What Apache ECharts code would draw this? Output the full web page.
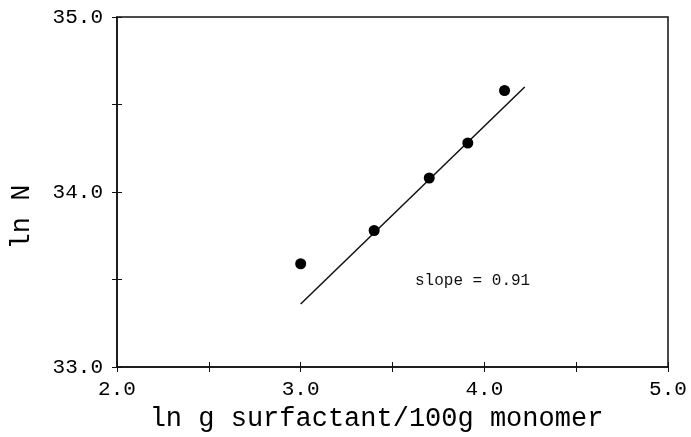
<!DOCTYPE html>
<html>
<head>
<meta charset="utf-8">
<script src="https://cdn.jsdelivr.net/npm/echarts@6/dist/echarts.min.js"></script>
<style>
  html, body { margin: 0; padding: 0; background: #fff; }
  #chart { width: 691px; height: 437px; }
</style>
</head>
<body>
<div id="chart"></div>
<script>
// measured points (ln g surfactant/100g monomer, ln N)
const lnSurf = [3.0, 3.4, 3.7, 3.91, 4.11];
const lnN = [33.59, 33.78, 34.08, 34.28, 34.58];
// fitted line end points
const fitX = [3.0, 4.22];
const fitY = [33.36, 34.60];

const xTickLabels = { 2: '2.0', 3: '3.0', 4: '4.0', 5: '5.0' };
const yTickLabels = { 33: '33.0', 34: '34.0', 35: '35.0' };

const fontMono = '"Liberation Mono", "DejaVu Sans Mono", monospace';

const chart = echarts.init(document.getElementById('chart'));

const tickLabel = {
  fontFamily: fontMono,
  fontSize: 21,
  color: '#000'
};

const option = {
  animation: false,
  backgroundColor: '#fff',
  grid: {
    left: 114, right: 23, top: 17, bottom: 70,
    show: true,
    borderColor: '#111',
    borderWidth: 1.5
  },
  xAxis: [{
    type: 'value',
    min: 2, max: 5, interval: 0.5,
    name: 'ln g surfactant/100g monomer',
    nameLocation: 'middle',
    nameGap: 38,
    nameTextStyle: { fontFamily: fontMono, fontSize: 27, color: '#000', padding: [0, 32, 0, 0] },
    axisLine: { show: true, lineStyle: { color: '#111', width: 1.5 } },
    axisTick: { show: true, inside: true, length: 5, lineStyle: { color: '#111' } },
    axisLabel: {
      ...tickLabel,
      margin: 12,
      formatter: v => xTickLabels[v] || ''
    },
    splitLine: { show: false }
  }, {
    type: 'value',
    position: 'bottom',
    min: 2, max: 5, interval: 0.5,
    axisLine: { show: false },
    axisTick: { show: true, inside: false, length: 5, lineStyle: { color: '#111' } },
    axisLabel: { show: false },
    splitLine: { show: false }
  }],
  yAxis: [{
    type: 'value',
    min: 33, max: 35, interval: 0.5,
    name: 'ln N',
    nameLocation: 'middle',
    nameRotate: 90,
    nameGap: 82,
    nameTextStyle: { fontFamily: fontMono, fontSize: 27, color: '#000', padding: [0, 50, 0, 0] },
    axisLine: { show: true, lineStyle: { color: '#111', width: 1.5 } },
    axisTick: { show: true, inside: true, length: 5, lineStyle: { color: '#111' } },
    axisLabel: {
      ...tickLabel,
      margin: 14,
      formatter: v => yTickLabels[v] || ''
    },
    splitLine: { show: false }
  }, {
    type: 'value',
    position: 'left',
    min: 33, max: 35, interval: 0.5,
    axisLine: { show: false },
    axisTick: { show: true, inside: false, length: 5, lineStyle: { color: '#111' } },
    axisLabel: { show: false },
    splitLine: { show: false }
  }],
  series: [{
    type: 'line',
    data: fitX.map((x, i) => [x, fitY[i]]),
    symbol: 'none',
    lineStyle: { color: '#111', width: 1.5 },
    z: 2
  }, {
    type: 'scatter',
    data: lnSurf.map((x, i) => [x, lnN[i]]),
    symbol: 'circle',
    symbolSize: 11,
    itemStyle: { color: '#000', opacity: 1 },
    z: 3
  }],
  graphic: [{
    type: 'text',
    left: 415,
    top: 273,
    style: {
      text: 'slope = 0.91',
      font: '16px ' + fontMono,
      fill: '#111'
    }
  }]
};

chart.setOption(option);
</script>
</body>
</html>
